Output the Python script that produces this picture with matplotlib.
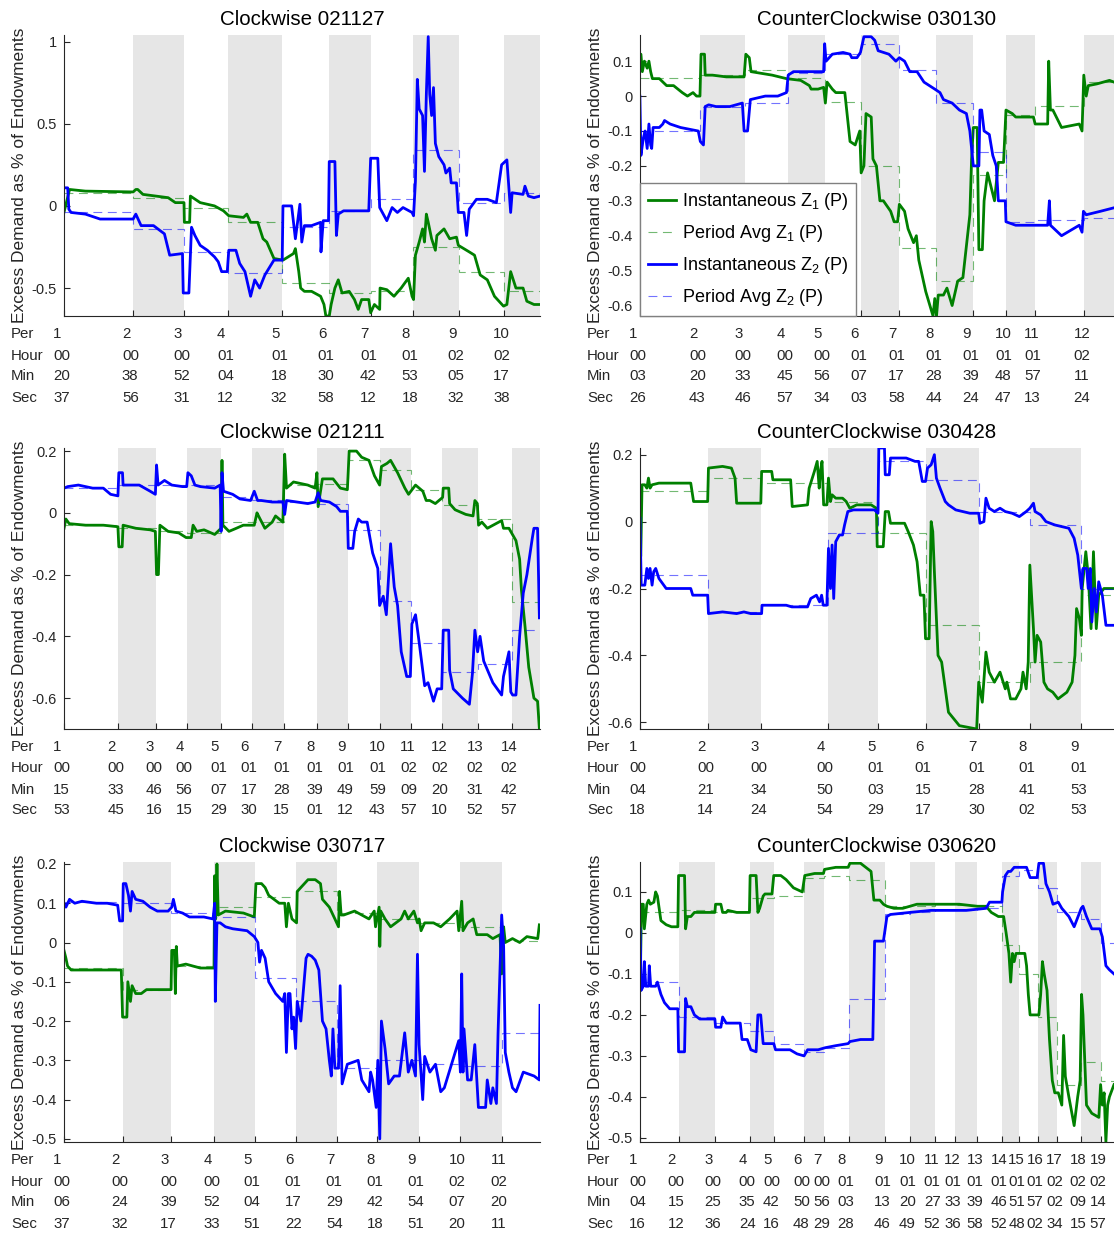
import matplotlib
matplotlib.use('Agg')
import matplotlib.pyplot as plt
import matplotlib.transforms as mtransforms
from matplotlib.ticker import FuncFormatter
import numpy as np

plt.rcParams['font.family'] = ['Liberation Sans', 'DejaVu Sans']
plt.rcParams['mathtext.fontset'] = 'custom'
plt.rcParams['mathtext.rm'] = 'Liberation Sans'

# ---- session Clockwise 021127 ----
cw021127_starts = ['00:20:37', '00:38:56', '00:52:31', '01:04:12', '01:18:32',
                   '01:30:58', '01:42:12', '01:53:18', '02:05:32', '02:17:38']
cw021127_end = 147.1
cw021127_z1 = [(20.6,-0.04),(22.1,0.10),(26.3,0.09),(39.0,0.085),(39.7,0.10),(40.2,0.10),(41.6,0.07),(48.3,0.05),(50.2,0.02),(52.5,0.02),(52.6,-0.10),(54.0,-0.10),(54.2,0.06),(56.8,0.02),(60.6,0.0),(63.0,-0.03),(64.4,-0.06),(68.3,-0.07),(69.2,-0.05),(70.2,-0.10),(72.1,-0.10),(73.5,-0.20),(74.5,-0.22),(76.4,-0.32),(78.8,-0.33),(81.6,-0.29),(82.1,-0.26),(83.0,-0.40),(83.5,-0.50),(84.5,-0.52),(86.4,-0.52),(88.8,-0.55),(89.7,-0.60),(90.2,-0.67),(91.1,-0.67),(91.6,-0.60),(92.6,-0.50),(93.5,-0.45),(94.5,-0.53),(96.4,-0.52),(97.8,-0.57),(98.8,-0.63),(99.7,-0.57),(101.6,-0.57),(102.1,-0.65),(103.1,-0.60),(104.5,-0.63),(104.6,-0.50),(106.4,-0.51),(108.3,-0.55),(110.2,-0.50),(112.1,-0.44),(113.1,-0.55),(113.5,-0.57),(114.0,-0.30),(115.0,-0.22),(115.9,-0.14),(116.4,-0.22),(116.9,-0.05),(117.4,-0.10),(118.3,-0.20),(119.3,-0.27),(119.7,-0.18),(121.6,-0.14),(123.1,-0.20),(124.9,-0.19),(125.4,-0.24),(128.3,-0.28),(129.7,-0.30),(131.2,-0.42),(133.1,-0.45),(135.0,-0.55),(137.4,-0.61),(138.3,-0.60),(139.3,-0.40),(140.7,-0.50),(142.6,-0.50),(143.6,-0.58),(145.5,-0.60),(147.1,-0.60)]
cw021127_z2 = [(20.6,0.11),(21.6,0.11),(21.9,-0.02),(22.5,-0.04),(26.3,-0.05),(30.2,-0.08),(39.0,-0.08),(39.7,-0.05),(41.1,-0.12),(44.4,-0.12),(47.3,-0.17),(48.7,-0.30),(52.1,-0.29),(52.3,-0.53),(53.8,-0.53),(54.5,-0.13),(55.4,-0.18),(56.8,-0.24),(58.7,-0.27),(60.6,-0.31),(61.6,-0.34),(62.5,-0.40),(64.0,-0.40),(64.4,-0.27),(66.3,-0.27),(67.3,-0.35),(68.7,-0.40),(70.2,-0.55),(71.3,-0.45),(72.6,-0.50),(74.0,-0.42),(76.4,-0.33),(78.6,-0.33),(78.8,0.0),(81.1,0.0),(82.1,-0.20),(83.3,0.01),(83.8,-0.22),(84.5,-0.12),(86.4,-0.12),(88.8,-0.10),(88.9,-0.28),(89.5,-0.09),(90.9,-0.09),(91.1,0.27),(92.6,0.27),(93.0,-0.18),(93.5,-0.05),(94.9,-0.03),(101.6,-0.03),(102.1,0.29),(104.0,0.29),(104.5,-0.01),(106.4,-0.09),(107.8,-0.01),(109.2,-0.04),(110.7,-0.01),(113.1,-0.04),(113.5,-0.06),(114.0,0.15),(114.5,0.77),(115.0,0.59),(115.9,0.55),(116.4,0.21),(116.9,0.68),(117.4,1.03),(117.8,0.68),(118.3,0.55),(118.8,0.72),(119.3,0.38),(120.2,0.30),(121.6,0.25),(122.1,0.20),(123.1,0.23),(123.5,0.14),(124.9,0.14),(125.4,-0.04),(126.9,-0.04),(127.6,-0.18),(128.3,-0.02),(130.2,0.04),(133.1,0.04),(135.5,0.02),(136.9,0.25),(138.3,0.28),(139.3,-0.04),(139.7,0.08),(142.6,0.07),(143.1,0.12),(144.0,0.06),(145.5,0.05),(147.1,0.06)]
cw021127_z1avg = [0.08, 0.05, -0.01, -0.10, -0.47, -0.53, -0.52, -0.25, -0.40, -0.52]
cw021127_z2avg = [-0.04, -0.14, -0.28, -0.41, -0.13, -0.03, 0.04, 0.34, 0.02, 0.08]

# ---- session CounterClockwise 030130 ----
ccw030130_starts = ['00:03:26', '00:20:43', '00:33:46', '00:45:57', '00:56:34', '01:07:03',
                    '01:17:58', '01:28:44', '01:39:24', '01:48:47', '01:57:13', '02:11:24']
ccw030130_end = 139.9
ccw030130_z1 = [(3.4,0.12),(3.7,0.12),(4.1,0.07),(4.7,0.10),(5.5,0.08),(6.0,0.10),(6.5,0.07),(7.0,0.05),(9.0,0.05),(11.1,0.03),(13.1,0.03),(15.6,0.01),(17.1,0.0),(18.7,0.01),(19.7,0.0),(20.7,0.0),(21.0,0.12),(22.0,0.12),(22.2,0.06),(24.3,0.06),(28.3,0.055),(33.4,0.055),(33.9,0.12),(34.9,0.11),(35.4,0.07),(41.5,0.06),(45.6,0.05),(49.7,0.045),(52.2,0.03),(52.7,0.02),(54.7,0.02),(56.3,0.025),(56.8,-0.02),(57.3,0.04),(58.8,0.02),(59.8,0.01),(62.4,0.01),(63.9,-0.13),(65.4,-0.14),(66.7,-0.10),(67.1,-0.22),(67.9,-0.20),(68.5,-0.05),(70.0,-0.06),(70.5,-0.18),(71.5,-0.20),(72.5,-0.30),(73.5,-0.30),(75.6,-0.33),(76.6,-0.36),(77.6,-0.36),(78.1,-0.31),(79.6,-0.33),(80.6,-0.38),(82.2,-0.42),(83.0,-0.40),(83.7,-0.47),(85.7,-0.56),(87.8,-0.63),(88.3,-0.58),(88.8,-0.63),(89.3,-0.57),(90.8,-0.57),(91.8,-0.55),(93.3,-0.60),(94.9,-0.53),(96.4,-0.52),(98.4,-0.34),(98.9,-0.18),(99.4,-0.09),(100.5,-0.09),(101.0,-0.44),(102.0,-0.44),(102.5,-0.30),(103.5,-0.22),(104.5,-0.26),(105.5,-0.30),(106.6,-0.19),(108.1,-0.19),(108.8,-0.04),(110.6,-0.05),(111.6,-0.06),(116.7,-0.06),(117.2,-0.08),(120.8,-0.08),(121.1,0.10),(121.6,-0.04),(122.3,-0.04),(124.8,-0.09),(129.9,-0.08),(130.7,-0.10),(131.2,0.06),(131.9,0.0),(132.5,0.03),(135.0,0.035),(138.6,0.045),(139.9,0.04)]
ccw030130_z2 = [(3.4,0.0),(3.7,-0.17),(4.4,-0.12),(4.9,-0.10),(5.5,-0.15),(6.0,-0.08),(6.5,-0.14),(6.8,-0.15),(7.2,-0.09),(9.0,-0.09),(10.0,-0.08),(10.5,-0.07),(12.1,-0.08),(15.1,-0.09),(20.2,-0.10),(20.8,-0.13),(21.7,-0.14),(22.2,-0.03),(23.2,-0.025),(25.3,-0.03),(29.3,-0.03),(32.9,-0.02),(33.4,-0.10),(34.4,-0.10),(35.2,-0.01),(39.5,0.0),(43.1,0.0),(45.6,0.01),(46.1,0.06),(47.6,0.07),(51.7,0.07),(56.3,0.07),(56.6,0.15),(57.0,0.10),(58.8,0.12),(61.9,0.125),(63.9,0.12),(64.4,0.11),(65.9,0.11),(66.9,0.125),(67.9,0.17),(70.0,0.17),(71.0,0.16),(72.0,0.13),(75.1,0.12),(77.1,0.10),(78.1,0.11),(79.6,0.10),(81.1,0.07),(83.2,0.07),(85.2,0.04),(88.3,0.02),(89.8,0.01),(90.8,-0.01),(93.3,-0.02),(95.4,-0.04),(97.4,-0.05),(98.4,-0.10),(98.9,-0.15),(99.4,-0.20),(101.0,-0.20),(101.3,-0.04),(101.8,-0.04),(102.5,-0.10),(104.0,-0.11),(105.0,-0.17),(106.0,-0.20),(106.6,-0.30),(108.6,-0.30),(108.8,-0.36),(111.6,-0.37),(116.7,-0.37),(120.8,-0.37),(121.3,-0.30),(121.6,-0.37),(124.8,-0.40),(129.9,-0.37),(130.7,-0.39),(131.1,-0.33),(131.9,-0.34),(136.0,-0.33),(139.9,-0.32)]
ccw030130_z1avg = [0.053, 0.06, 0.074, 0.053, -0.016, -0.20, -0.435, -0.53, -0.226, -0.054, -0.029, 0.04]
ccw030130_z2avg = [-0.10, -0.03, -0.02, 0.065, 0.12, 0.15, 0.074, -0.02, -0.16, -0.36, -0.355, -0.35]

# ---- session Clockwise 021211 ----
cw021211_starts = ['00:15:53', '00:33:45', '00:46:16', '00:56:15', '01:07:29', '01:17:30', '01:28:15',
                   '01:39:01', '01:49:12', '01:59:43', '02:09:57', '02:20:10', '02:31:52', '02:42:57']
cw021211_end = 172.3
cw021211_z1 = [(15.9,-0.05),(16.5,-0.02),(17.6,-0.035),(23.0,-0.04),(28.8,-0.04),(33.6,-0.045),(33.9,-0.11),(35.0,-0.11),(35.3,-0.04),(39.5,-0.05),(44.2,-0.055),(45.9,-0.06),(46.3,-0.20),(46.9,-0.20),(47.4,-0.04),(50.1,-0.06),(53.6,-0.065),(56.0,-0.08),(57.7,-0.08),(58.3,-0.04),(59.5,-0.06),(61.9,-0.055),(65.4,-0.07),(67.5,-0.05),(67.8,0.17),(68.1,-0.04),(70.1,-0.06),(72.5,-0.05),(74.8,-0.04),(78.4,-0.04),(79.3,0.0),(79.8,-0.01),(81.9,-0.05),(84.3,-0.03),(85.4,-0.01),(87.8,-0.03),(88.4,0.19),(89.0,0.08),(91.3,0.10),(96.0,0.09),(98.4,0.08),(99.0,0.13),(99.4,0.02),(100.8,0.11),(104.3,0.11),(106.7,0.08),(109.0,0.075),(109.6,0.20),(112.0,0.20),(113.7,0.18),(116.1,0.17),(117.9,0.12),(119.6,0.09),(120.2,0.15),(122.0,0.16),(123.2,0.17),(125.5,0.13),(127.9,0.08),(129.1,0.06),(131.4,0.09),(133.8,0.07),(134.9,0.04),(136.1,0.04),(137.9,0.03),(140.3,0.05),(140.5,0.08),(142.3,0.08),(142.6,0.03),(144.4,0.01),(147.9,-0.005),(150.3,-0.01),(150.9,0.04),(151.7,0.03),(152.1,-0.04),(153.2,-0.03),(155.0,-0.05),(159.7,-0.025),(160.3,-0.05),(162.1,-0.05),(164.4,-0.09),(165.6,-0.15),(166.2,-0.25),(167.4,-0.37),(168.6,-0.50),(170.3,-0.60),(171.5,-0.61),(172.1,-0.70)]
cw021211_z2 = [(15.9,0.08),(17.1,0.085),(20.6,0.09),(25.3,0.08),(28.8,0.08),(31.2,0.06),(33.6,0.055),(33.9,0.13),(35.1,0.13),(35.3,0.09),(40.6,0.09),(44.2,0.07),(45.9,0.06),(46.3,0.155),(46.8,0.09),(48.9,0.105),(51.3,0.09),(54.8,0.085),(56.2,0.085),(56.6,0.13),(57.7,0.12),(58.9,0.09),(60.7,0.085),(65.4,0.08),(67.2,0.09),(67.5,-0.06),(67.8,0.13),(68.3,0.07),(71.3,0.06),(73.7,0.045),(77.2,0.04),(78.4,0.07),(79.5,0.04),(80.7,0.04),(84.3,0.035),(87.8,0.035),(88.4,-0.005),(89.0,0.04),(92.5,0.035),(96.0,0.03),(98.4,0.035),(99.4,0.065),(100.2,0.04),(103.1,0.035),(105.5,0.02),(106.7,0.005),(109.0,0.005),(109.3,-0.115),(110.8,-0.115),(111.4,-0.06),(112.6,-0.02),(113.7,-0.03),(115.5,-0.03),(117.3,-0.13),(119.0,-0.18),(119.6,-0.30),(120.8,-0.27),(121.8,-0.33),(123.2,-0.10),(124.4,-0.24),(125.5,-0.30),(126.7,-0.45),(128.5,-0.53),(129.7,-0.53),(130.2,-0.36),(131.4,-0.33),(132.6,-0.42),(134.4,-0.56),(135.5,-0.55),(137.3,-0.61),(138.5,-0.57),(140.0,-0.57),(140.5,-0.38),(142.3,-0.38),(142.6,-0.51),(143.8,-0.57),(146.8,-0.60),(149.1,-0.62),(150.1,-0.52),(150.9,-0.38),(151.8,-0.45),(152.6,-0.40),(153.8,-0.48),(156.8,-0.55),(159.7,-0.59),(160.3,-0.53),(162.1,-0.45),(162.7,-0.58),(163.3,-0.59),(164.4,-0.59),(165.6,-0.40),(166.8,-0.26),(168.0,-0.20),(169.8,-0.08),(170.3,-0.05),(171.5,-0.05),(172.1,-0.34)]
cw021211_z1avg = [-0.04, -0.05, -0.06, -0.065, -0.03, -0.03, 0.09, 0.095, 0.17, 0.14, 0.075, 0.025, -0.02, -0.29]
cw021211_z2avg = [0.08, 0.09, 0.09, 0.09, 0.05, 0.04, 0.035, 0.03, -0.055, -0.285, -0.42, -0.515, -0.49, -0.38]

# ---- session CounterClockwise 030428 ----
ccw030428_starts = ['00:04:18', '00:21:14', '00:34:24', '00:50:54', '01:03:29',
                    '01:15:17', '01:28:30', '01:41:02', '01:53:53']
ccw030428_end = 122.0
ccw030428_z1 = [(4.5,-0.10),(4.8,0.11),(5.5,0.11),(6.0,0.10),(6.4,0.13),(6.8,0.10),(7.3,0.11),(9.0,0.115),(16.9,0.115),(17.6,0.06),(21.1,0.06),(21.3,0.16),(24.8,0.165),(27.0,0.16),(27.9,0.13),(28.3,0.055),(34.3,0.055),(34.5,0.15),(37.0,0.15),(37.3,0.125),(41.7,0.125),(42.1,0.045),(45.9,0.05),(46.3,0.10),(47.6,0.15),(48.3,0.18),(48.8,0.10),(49.1,0.15),(49.5,0.18),(49.9,0.05),(50.7,0.05),(51.1,0.13),(51.6,0.06),(52.0,0.08),(52.9,0.07),(54.6,0.07),(55.5,0.06),(56.4,0.04),(58.1,0.05),(61.7,0.05),(63.0,0.04),(63.2,-0.075),(64.7,-0.075),(65.2,0.03),(66.0,0.03),(66.5,-0.005),(70.0,-0.005),(70.9,-0.03),(72.2,-0.07),(73.1,-0.12),(73.9,-0.22),(74.8,-0.22),(75.2,-0.35),(76.1,-0.35),(76.6,0.0),(77.0,-0.03),(77.4,-0.15),(78.3,-0.40),(79.2,-0.42),(80.9,-0.57),(83.6,-0.61),(87.9,-0.62),(88.4,-0.48),(89.3,-0.54),(90.2,-0.39),(91.0,-0.45),(92.3,-0.48),(93.7,-0.45),(95.0,-0.50),(95.4,-0.48),(96.3,-0.53),(97.6,-0.53),(98.9,-0.50),(99.4,-0.45),(100.2,-0.50),(100.7,-0.42),(101.1,-0.13),(102.0,-0.32),(102.4,-0.42),(102.9,-0.34),(103.8,-0.36),(104.6,-0.48),(105.5,-0.50),(106.8,-0.51),(108.1,-0.53),(110.3,-0.51),(111.6,-0.48),(112.3,-0.40),(112.7,-0.26),(113.4,-0.29),(113.9,-0.34),(114.1,-0.20),(115.0,-0.09),(115.6,-0.16),(116.3,-0.32),(116.9,-0.09),(117.6,-0.32),(118.2,-0.22),(119.5,-0.20),(122.0,-0.20)]
ccw030428_z2 = [(4.3,0.01),(4.6,-0.19),(5.5,-0.19),(6.0,-0.14),(6.4,-0.17),(6.8,-0.14),(7.3,-0.19),(7.7,-0.15),(8.2,-0.14),(9.0,-0.17),(10.8,-0.20),(16.9,-0.20),(17.4,-0.22),(21.1,-0.22),(21.3,-0.275),(24.8,-0.27),(28.3,-0.275),(30.1,-0.27),(31.8,-0.275),(34.5,-0.275),(34.6,-0.25),(40.6,-0.25),(42.0,-0.255),(45.9,-0.255),(46.7,-0.23),(48.1,-0.22),(48.9,-0.24),(49.4,-0.22),(49.8,-0.25),(50.7,-0.25),(51.1,-0.08),(51.6,-0.20),(52.0,-0.07),(52.4,-0.23),(52.9,-0.06),(53.8,-0.04),(54.6,-0.04),(55.1,-0.01),(55.9,0.03),(57.3,0.035),(62.5,0.035),(63.4,0.025),(63.6,0.22),(65.0,0.22),(65.2,0.14),(66.2,0.14),(66.5,0.19),(70.4,0.19),(72.6,0.18),(73.5,0.18),(74.4,0.12),(75.2,0.12),(75.7,0.16),(76.6,0.17),(77.4,0.20),(77.9,0.13),(78.8,0.10),(80.1,0.06),(80.9,0.05),(82.7,0.035),(86.2,0.025),(88.4,0.025),(88.7,-0.005),(89.7,0.0),(90.2,0.07),(91.0,0.04),(92.3,0.03),(93.7,0.04),(95.0,0.03),(96.7,0.025),(98.5,0.015),(100.2,0.03),(101.1,0.04),(102.0,0.055),(102.4,0.03),(103.8,0.02),(105.1,0.0),(107.3,-0.01),(110.8,-0.02),(112.1,-0.05),(113.0,-0.10),(113.9,-0.20),(114.3,-0.14),(115.2,-0.14),(115.6,-0.20),(116.1,-0.14),(116.5,-0.30),(117.1,-0.20),(117.6,-0.27),(118.2,-0.18),(119.1,-0.22),(120.0,-0.31),(122.0,-0.31)]
ccw030428_z1avg = [0.09, 0.13, 0.115, 0.06, -0.035, -0.31, -0.48, -0.42, -0.22]
ccw030428_z2avg = [-0.16, -0.27, -0.25, -0.035, 0.18, 0.125, 0.03, -0.01, -0.20]

# ---- session Clockwise 030717 ----
cw030717_starts = ['00:06:37', '00:24:32', '00:39:17', '00:52:33', '01:04:51', '01:17:22',
                   '01:29:54', '01:42:18', '01:54:51', '02:07:20', '02:20:11']
cw030717_end = 151.9
cw030717_z1 = [(6.6,-0.02),(7.2,-0.04),(7.7,-0.06),(8.8,-0.07),(12.1,-0.07),(19.8,-0.07),(24.1,-0.07),(24.5,-0.19),(25.8,-0.19),(26.1,-0.10),(26.9,-0.15),(27.4,-0.11),(28.5,-0.13),(30.2,-0.13),(31.8,-0.12),(35.1,-0.12),(39.3,-0.12),(39.5,-0.02),(40.3,-0.02),(40.6,-0.13),(40.9,-0.01),(41.2,-0.06),(43.8,-0.055),(48.2,-0.065),(52.4,-0.065),(52.6,0.17),(52.9,0.06),(53.3,0.20),(53.7,0.07),(55.9,0.08),(61.4,0.075),(64.7,0.065),(65.2,0.15),(66.9,0.15),(68.0,0.14),(69.1,0.12),(72.3,0.10),(74.0,0.10),(74.5,0.04),(75.1,0.10),(76.2,0.06),(77.6,0.05),(77.8,0.13),(78.9,0.14),(81.1,0.16),(83.3,0.16),(84.9,0.15),(85.5,0.11),(87.6,0.09),(89.3,0.06),(90.4,0.04),(90.7,0.13),(91.2,0.07),(92.0,0.07),(95.3,0.08),(97.5,0.07),(99.7,0.06),(101.3,0.08),(101.7,0.04),(102.8,0.09),(103.0,-0.01),(103.3,0.08),(104.6,0.06),(106.3,0.04),(109.5,0.06),(110.6,0.08),(111.7,0.06),(113.4,0.08),(114.5,0.05),(115.0,0.06),(115.6,0.03),(116.7,0.05),(119.4,0.05),(121.6,0.04),(124.3,0.06),(126.6,0.08),(127.1,0.03),(128.0,0.105),(128.4,0.03),(129.8,0.05),(131.5,0.06),(132.6,0.02),(135.8,0.02),(137.5,0.01),(139.7,0.02),(140.2,-0.08),(140.8,0.04),(141.3,0.0),(143.5,0.01),(145.7,0.0),(147.9,0.015),(151.2,0.01),(151.7,0.045)]
cw030717_z2 = [(6.6,0.10),(7.2,0.09),(8.3,0.11),(9.9,0.10),(12.1,0.105),(16.5,0.10),(19.8,0.10),(23.0,0.095),(23.6,0.055),(24.5,0.055),(24.7,0.15),(25.5,0.15),(26.3,0.12),(26.9,0.08),(27.4,0.13),(28.5,0.11),(30.7,0.105),(32.9,0.09),(35.1,0.08),(38.4,0.08),(39.5,0.09),(40.0,0.11),(40.8,0.08),(42.8,0.075),(44.9,0.065),(49.3,0.065),(52.1,0.06),(52.6,0.10),(52.8,-0.15),(53.3,0.05),(54.3,0.05),(55.9,0.04),(58.1,0.035),(62.5,0.03),(64.7,0.015),(65.8,0.0),(66.3,-0.05),(66.9,-0.02),(68.0,-0.04),(69.1,-0.10),(71.2,-0.13),(73.4,-0.15),(74.0,-0.13),(74.5,-0.28),(75.1,-0.13),(75.6,-0.13),(76.2,-0.22),(76.7,-0.19),(77.3,-0.27),(77.8,-0.15),(78.9,-0.20),(79.5,-0.14),(80.0,-0.09),(80.5,-0.04),(81.1,-0.03),(82.2,-0.035),(83.3,-0.045),(84.4,-0.07),(85.5,-0.20),(86.6,-0.22),(87.6,-0.30),(88.2,-0.34),(88.7,-0.22),(89.3,-0.32),(90.4,-0.32),(90.9,-0.11),(91.5,-0.36),(93.1,-0.31),(96.4,-0.30),(97.5,-0.35),(99.7,-0.38),(100.2,-0.33),(100.8,-0.35),(101.9,-0.42),(102.4,-0.30),(103.0,-0.50),(103.5,-0.20),(104.6,-0.27),(105.7,-0.36),(107.4,-0.34),(109.0,-0.34),(110.6,-0.23),(111.7,-0.33),(112.8,-0.30),(113.9,-0.34),(114.5,-0.03),(115.0,-0.26),(116.1,-0.40),(116.7,-0.29),(118.3,-0.33),(120.0,-0.31),(121.6,-0.38),(122.7,-0.37),(123.8,-0.34),(126.0,-0.28),(127.1,-0.25),(127.6,-0.33),(128.0,-0.08),(128.4,-0.33),(128.7,-0.22),(129.8,-0.35),(130.9,-0.35),(132.0,-0.26),(133.1,-0.42),(135.3,-0.42),(135.8,-0.35),(136.9,-0.41),(137.5,-0.37),(138.6,-0.41),(139.1,-0.23),(140.2,0.07),(140.8,-0.01),(141.3,-0.28),(142.4,-0.33),(143.5,-0.37),(144.6,-0.38),(146.8,-0.33),(150.1,-0.34),(151.7,-0.35),(151.9,-0.16)]
cw030717_z1avg = [-0.065, -0.12, -0.06, 0.09, 0.115, 0.13, 0.075, 0.06, 0.05, 0.04, 0.005]
cw030717_z2avg = [0.104, 0.10, 0.075, 0.065, -0.09, -0.15, -0.32, -0.30, -0.31, -0.315, -0.23]

# ---- session CounterClockwise 030620 ----
ccw030620_starts = ['00:04:16', '00:15:12', '00:25:36', '00:35:24', '00:42:16', '00:50:48', '00:56:29',
                    '01:03:28', '01:13:46', '01:20:49', '01:27:52', '01:33:36', '01:39:58', '01:46:52',
                    '01:51:48', '01:57:02', '02:02:34', '02:09:15', '02:14:57']
ccw030620_end = 138.7
ccw030620_z1 = [(4.3,-0.14),(4.7,0.07),(5.2,0.07),(5.5,0.01),(6.2,0.07),(6.7,0.08),(7.2,0.07),(8.2,0.075),(8.7,0.10),(9.2,0.09),(10.2,0.03),(11.7,0.02),(13.2,0.015),(15.0,0.015),(15.2,0.14),(16.9,0.14),(17.2,0.01),(17.7,0.04),(18.7,0.04),(19.7,0.05),(23.7,0.05),(25.5,0.05),(25.7,0.07),(27.2,0.07),(27.7,0.05),(28.7,0.05),(29.2,0.055),(31.7,0.05),(35.3,0.05),(35.5,0.14),(37.2,0.14),(37.7,0.05),(38.2,0.06),(39.2,0.09),(39.7,0.095),(41.7,0.095),(42.2,0.14),(44.2,0.14),(45.7,0.13),(47.8,0.11),(50.3,0.10),(51.0,0.14),(53.8,0.145),(56.3,0.145),(56.6,0.155),(59.8,0.16),(63.3,0.16),(63.8,0.17),(66.8,0.17),(68.3,0.16),(69.8,0.15),(70.6,0.08),(72.3,0.08),(73.3,0.07),(74.3,0.065),(76.3,0.06),(78.8,0.06),(80.8,0.065),(82.8,0.07),(86.8,0.07),(90.8,0.07),(94.8,0.07),(99.9,0.065),(102.4,0.065),(103.9,0.05),(105.9,0.04),(107.4,0.04),(108.1,0.0),(108.9,-0.05),(109.4,-0.12),(109.9,-0.05),(110.4,-0.07),(110.9,-0.05),(113.4,-0.05),(113.9,-0.08),(114.4,-0.15),(114.9,-0.20),(117.4,-0.20),(117.9,-0.15),(118.4,-0.07),(118.9,-0.10),(119.7,-0.14),(120.4,-0.26),(121.2,-0.36),(121.9,-0.39),(122.9,-0.39),(123.9,-0.42),(124.4,-0.25),(124.9,-0.35),(125.9,-0.40),(127.4,-0.47),(128.4,-0.40),(129.1,-0.36),(129.5,-0.15),(129.9,-0.20),(130.9,-0.42),(132.4,-0.44),(134.4,-0.45),(134.9,-0.37),(135.4,-0.42),(135.9,-0.39),(136.4,-0.51),(136.9,-0.42),(137.4,-0.40),(138.7,-0.37)]
ccw030620_z2 = [(4.3,0.01),(4.6,-0.14),(5.2,-0.13),(5.5,-0.07),(5.9,-0.13),(6.7,-0.13),(6.9,-0.08),(7.3,-0.13),(8.7,-0.13),(9.2,-0.12),(10.2,-0.15),(11.2,-0.17),(12.7,-0.185),(15.0,-0.185),(15.2,-0.29),(16.9,-0.29),(17.2,-0.16),(17.7,-0.18),(18.7,-0.18),(19.7,-0.20),(21.2,-0.21),(25.5,-0.21),(25.7,-0.23),(27.2,-0.23),(27.7,-0.205),(28.7,-0.22),(32.7,-0.22),(33.2,-0.26),(34.7,-0.26),(35.7,-0.285),(37.2,-0.29),(37.7,-0.20),(38.5,-0.20),(39.2,-0.27),(42.2,-0.27),(42.7,-0.285),(46.8,-0.285),(48.8,-0.295),(50.8,-0.30),(51.8,-0.285),(54.8,-0.285),(56.8,-0.28),(59.8,-0.275),(63.3,-0.27),(63.8,-0.265),(66.8,-0.26),(70.3,-0.26),(70.8,-0.02),(73.3,-0.02),(74.3,0.04),(75.3,0.045),(80.8,0.05),(86.8,0.055),(96.8,0.055),(102.4,0.06),(103.4,0.075),(106.9,0.075),(107.1,0.10),(107.9,0.14),(108.7,0.15),(109.4,0.15),(110.4,0.16),(113.9,0.16),(114.9,0.135),(116.9,0.135),(117.4,0.17),(118.7,0.17),(119.4,0.12),(120.4,0.10),(121.4,0.07),(122.9,0.075),(123.9,0.06),(125.9,0.04),(127.4,0.015),(129.4,0.06),(129.9,0.065),(130.9,0.04),(132.4,0.01),(134.7,0.01),(135.4,-0.01),(136.4,-0.08),(137.4,-0.09),(138.7,-0.10)]
ccw030620_z1avg = [0.05, 0.055, 0.05, 0.085, 0.09, 0.135, 0.14, 0.13, 0.065, 0.065, 0.07, 0.068, 0.065,
                   -0.03, -0.10, -0.205, -0.37, -0.315, -0.36]
ccw030620_z2avg = [-0.12, -0.205, -0.22, -0.24, -0.27, -0.29, -0.28, -0.16, 0.045, 0.05, 0.055, 0.055, 0.06,
                   0.14, 0.153, 0.11, 0.05, 0.035, -0.025]

GREEN = (0, 0.5, 0)
BLUE = (0, 0, 1)
SHADE = '#e6e6e6'
INK = '#262626'

def hms_to_min(s):
    h, m, sec = [int(p) for p in s.split(':')]
    return h * 60 + m + sec / 60.0

def pct_fmt(v, pos):
    return '{:g}'.format(round(v, 2) + 0.0)

def draw_panel(ax, title, starts, t_end, z1, z2, z1avg, z2avg, yticks, ylim, legend=False):
    edges = [hms_to_min(s) for s in starts] + [t_end]
    # even periods are shaded
    for i in range(1, len(starts), 2):
        ax.axvspan(edges[i], edges[i + 1], color=SHADE, lw=0, zorder=0)

    t1, v1 = zip(*z1)
    t2, v2 = zip(*z2)
    ax.plot(t1, v1, color=GREEN, lw=2.0, label=r'Instantaneous Z$_\mathregular{1}$ (P)', zorder=3)
    ax.stairs(z1avg, edges, baseline=None, color=GREEN, alpha=0.55, lw=0.8,
              linestyle=(0, (8, 5)), label=r'Period Avg Z$_\mathregular{1}$ (P)', zorder=4)
    ax.plot(t2, v2, color=BLUE, lw=2.0, label=r'Instantaneous Z$_\mathregular{2}$ (P)', zorder=5)
    ax.stairs(z2avg, edges, baseline=None, color=BLUE, alpha=0.55, lw=0.8,
              linestyle=(0, (8, 5)), label=r'Period Avg Z$_\mathregular{2}$ (P)', zorder=6)

    ax.set_xlim(edges[0], edges[-1])
    ax.set_ylim(*ylim)
    ax.set_yticks(yticks)
    ax.yaxis.set_major_formatter(FuncFormatter(pct_fmt))
    ax.set_xticks(edges[:-1])
    ax.tick_params(axis='x', direction='in', length=4, labelbottom=False, color=INK)
    ax.tick_params(axis='y', direction='in', length=4, labelsize=10.5, labelcolor=INK, color=INK, pad=5)
    for side in ['top', 'right']:
        ax.spines[side].set_visible(False)
    for side in ['left', 'bottom']:
        ax.spines[side].set_color(INK)
        ax.spines[side].set_linewidth(0.8)
        ax.spines[side].set_zorder(7)

    ax.set_title(title, fontsize=14.8, pad=7)
    ax.text(-44 / ax.bbox.width, 0.5, 'Excess Demand as % of Endowments', transform=ax.transAxes,
            rotation=90, ha='center', va='center', fontsize=12.5, color=INK)

    # period / clock time table under the axis
    rows = ['Per', 'Hour', 'Min', 'Sec']
    row_dy = [18.0, 39.5, 60.5, 81.5]
    base = ax.get_xaxis_transform()
    for name, dy in zip(rows, row_dy):
        tr = mtransforms.offset_copy(ax.transAxes, fig=ax.figure, x=-53, y=-dy, units='dots')
        ax.text(0, 0, name, transform=tr, ha='left', va='center', fontsize=10.8, color=INK)
    for k, s in enumerate(starts):
        hh, mm, ss = s.split(':')
        vals = [str(k + 1), hh, mm, ss]
        for val, dy in zip(vals, row_dy):
            tr = mtransforms.offset_copy(base, fig=ax.figure, x=-11, y=-dy, units='dots')
            ax.text(edges[k], 0, val, transform=tr, ha='left', va='center',
                    fontsize=10.8, color=INK, clip_on=False)

    if legend:
        leg = ax.legend(loc='lower left', bbox_to_anchor=(0, 0), borderaxespad=0,
                        fontsize=13, handlelength=1.55, handletextpad=0.3, labelspacing=0.6,
                        borderpad=0.45, fancybox=False, framealpha=1, edgecolor='#808080')
        leg.get_frame().set_linewidth(1.0)
        leg.set_zorder(10)


fig = plt.figure(figsize=(11.14, 12.34), dpi=100)
W, H = 1114.0, 1234.0
col_left = [64, 640]
col_width = [476, 474]
row_top = [35, 448, 862]
row_bottom = [316, 729, 1142]

panels = [
    ('Clockwise 021127', cw021127_starts, cw021127_end, cw021127_z1, cw021127_z2,
     cw021127_z1avg, cw021127_z2avg, [-0.5, 0, 0.5, 1], (-0.67, 1.04)),
    ('CounterClockwise 030130', ccw030130_starts, ccw030130_end, ccw030130_z1, ccw030130_z2,
     ccw030130_z1avg, ccw030130_z2avg, np.arange(-0.6, 0.15, 0.1), (-0.63, 0.175)),
    ('Clockwise 021211', cw021211_starts, cw021211_end, cw021211_z1, cw021211_z2,
     cw021211_z1avg, cw021211_z2avg, [-0.6, -0.4, -0.2, 0, 0.2], (-0.70, 0.21)),
    ('CounterClockwise 030428', ccw030428_starts, ccw030428_end, ccw030428_z1, ccw030428_z2,
     ccw030428_z1avg, ccw030428_z2avg, [-0.6, -0.4, -0.2, 0, 0.2], (-0.62, 0.22)),
    ('Clockwise 030717', cw030717_starts, cw030717_end, cw030717_z1, cw030717_z2,
     cw030717_z1avg, cw030717_z2avg, np.arange(-0.5, 0.25, 0.1), (-0.508, 0.205)),
    ('CounterClockwise 030620', ccw030620_starts, ccw030620_end, ccw030620_z1, ccw030620_z2,
     ccw030620_z1avg, ccw030620_z2avg, np.arange(-0.5, 0.15, 0.1), (-0.51, 0.173)),
]

for idx, p in enumerate(panels):
    r, c = divmod(idx, 2)
    rect = [col_left[c] / W, 1 - row_bottom[r] / H, col_width[c] / W, (row_bottom[r] - row_top[r]) / H]
    ax = fig.add_axes(rect)
    draw_panel(ax, *p, legend=(idx == 1))

fig.savefig('out.png', dpi=100)
